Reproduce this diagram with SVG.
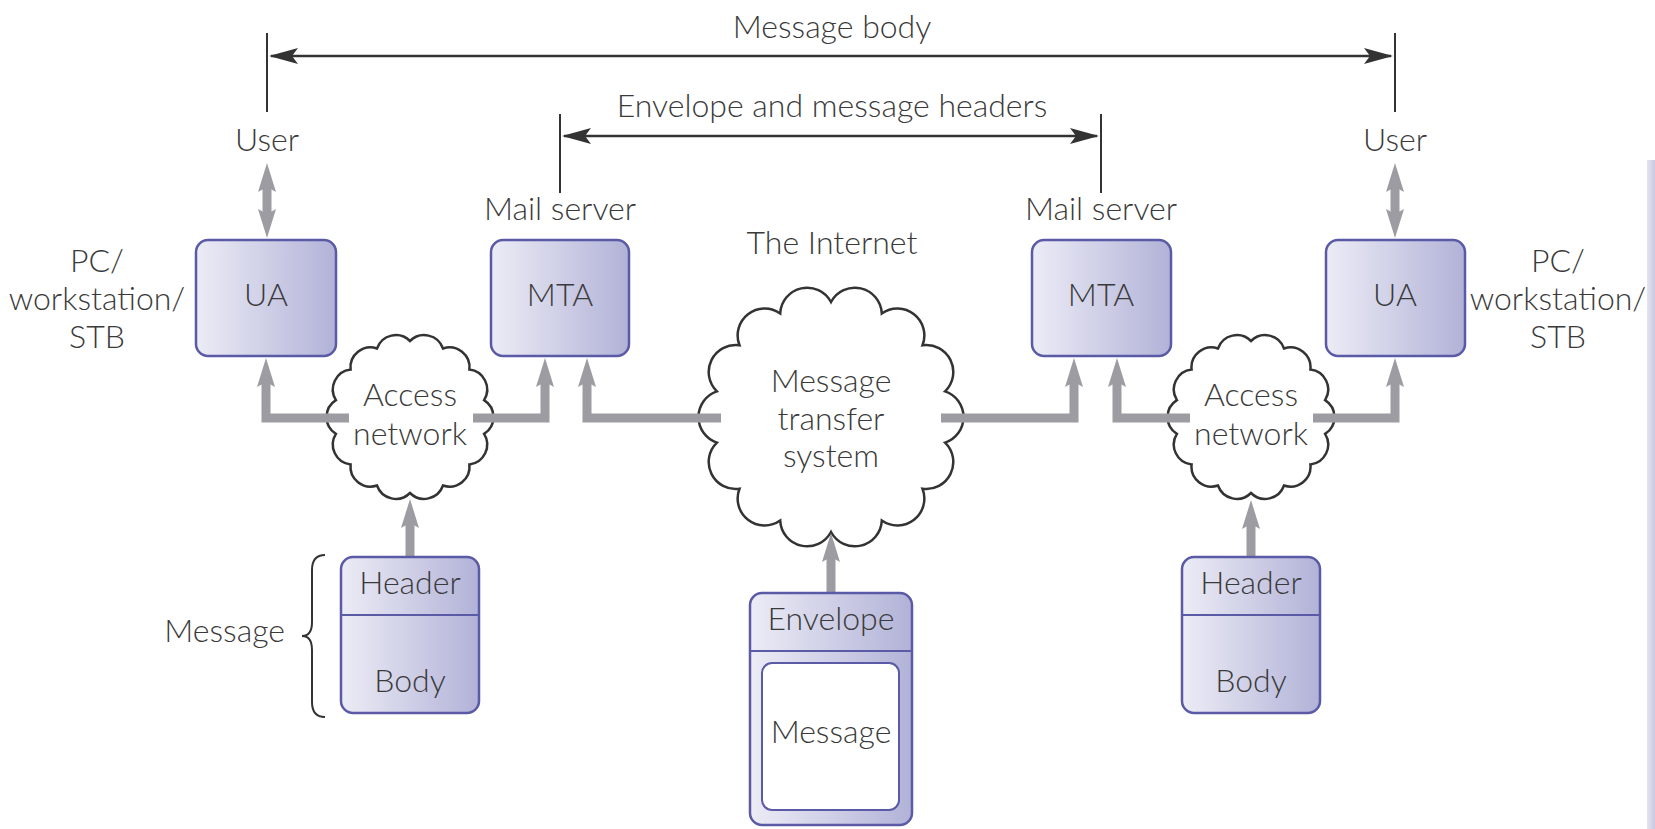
<svg xmlns="http://www.w3.org/2000/svg" width="1655" height="829" viewBox="0 0 1655 829">
<defs>
<linearGradient id="boxGrad" x1="0" y1="0" x2="1" y2="0">
<stop offset="0" stop-color="#ececf6"/>
<stop offset="1" stop-color="#b2b2d8"/>
</linearGradient>
<linearGradient id="edgeGrad" x1="0" y1="0" x2="1" y2="0">
<stop offset="0" stop-color="#e4e4f0"/>
<stop offset="1" stop-color="#c8c8e0"/>
</linearGradient>
<marker id="grayHead" viewBox="0 -10 30 20" markerWidth="30" markerHeight="20" refX="5" refY="0" markerUnits="userSpaceOnUse" orient="auto-start-reverse">
<path d="M0,-9 L29,0 L0,9 L5,0 Z" fill="#9c9ca2"/>
</marker>
<marker id="darkHead" viewBox="0 -9 30 18" markerWidth="30" markerHeight="18" refX="27" refY="0" markerUnits="userSpaceOnUse" orient="auto-start-reverse">
<path d="M0,-8 L29,0 L0,8 L6,0 Z" fill="#333"/>
</marker>
<path id="smallCloud" d="M0,-76 A20,20 0 0 1 33,-68.5 A20,20 0 0 1 59.4,-47.4 A20,20 0 0 1 74.1,-16.9 A20,20 0 0 1 74.1,16.9 A20,20 0 0 1 59.4,47.4 A20,20 0 0 1 33,68.5 A20,20 0 0 1 0,76 A20,20 0 0 1 -33,68.5 A20,20 0 0 1 -59.4,47.4 A20,20 0 0 1 -74.1,16.9 A20,20 0 0 1 -74.1,-16.9 A20,20 0 0 1 -59.4,-47.4 A20,20 0 0 1 -33,-68.5 A20,20 0 0 1 0,-76 Z"/>
</defs>
<style>
text{font-family:"Lato","Liberation Sans",sans-serif;font-weight:300;font-size:32px;fill:#3a3a3a;text-anchor:middle}
.box{fill:url(#boxGrad);stroke:#5a5aa6;stroke-width:2.5}
.inner{fill:#fff;stroke:#5a5aa6;stroke-width:2}
.div{stroke:#5a5aa6;stroke-width:2}
.cloud{fill:#fff;stroke:#333;stroke-width:2.5}
.flow{fill:none;stroke:#9c9ca2;stroke-width:9;marker-end:url(#grayHead)}
.both{marker-start:url(#grayHead)}
.dim{fill:none;stroke:#333;stroke-width:2.5;marker-start:url(#darkHead);marker-end:url(#darkHead)}
.tick{stroke:#333;stroke-width:2}
</style>
<rect width="1655" height="829" fill="#fff"/>
<rect x="1647" y="160" width="8" height="669" fill="url(#edgeGrad)"/>

<g id="cloud-access-left">
<use href="#smallCloud" class="cloud" transform="translate(410,417)"/>
<text x="410" y="406">Access</text>
<text x="410" y="445">network</text>
</g>
<g id="cloud-internet">
<path class="cloud" transform="translate(831,417)" d="M0,-115 A27,27 0 0 1 50.8,-103.6 A27,27 0 0 1 91.5,-71.7 A27,27 0 0 1 114.1,-25.6 A27,27 0 0 1 114.1,25.6 A27,27 0 0 1 91.5,71.7 A27,27 0 0 1 50.8,103.6 A27,27 0 0 1 0,115 A27,27 0 0 1 -50.8,103.6 A27,27 0 0 1 -91.5,71.7 A27,27 0 0 1 -114.1,25.6 A27,27 0 0 1 -114.1,-25.6 A27,27 0 0 1 -91.5,-71.7 A27,27 0 0 1 -50.8,-103.6 A27,27 0 0 1 0,-115 Z"/>
<text x="831" y="392">Message</text>
<text x="831" y="430">transfer</text>
<text x="831" y="467">system</text>
</g>
<g id="cloud-access-right">
<use href="#smallCloud" class="cloud" transform="translate(1251,417)"/>
<text x="1251" y="406">Access</text>
<text x="1251" y="445">network</text>
</g>

<g id="connectors">
<line class="tick" x1="267" y1="33" x2="267" y2="112"/>
<line class="tick" x1="1395" y1="33" x2="1395" y2="112"/>
<line class="dim" x1="271" y1="56" x2="1391" y2="56"/>
<line class="tick" x1="560" y1="114" x2="560" y2="193"/>
<line class="tick" x1="1101" y1="114" x2="1101" y2="193"/>
<line class="dim" x1="564" y1="136" x2="1097" y2="136"/>
<path class="flow both" d="M267,187 V214"/>
<path class="flow both" d="M1395,187 V214"/>
<path class="flow" d="M349,418 H266 V382"/>
<path class="flow" d="M473,418 H545 V382"/>
<path class="flow" d="M721,418 H587 V382"/>
<path class="flow" d="M941,418 H1074 V382"/>
<path class="flow" d="M1190,418 H1117 V382"/>
<path class="flow" d="M1313,418 H1395 V382"/>
<path class="flow" d="M410,557 V523"/>
<path class="flow" d="M831,593 V557"/>
<path class="flow" d="M1251,557 V524"/>
<path d="M325,555 Q312,555 312,570 L312,622 Q312,636 302,636 Q312,636 312,650 L312,702 Q312,717 325,717" fill="none" stroke="#333" stroke-width="2"/>
</g>

<g id="label-message-body"><text x="832" y="38">Message body</text></g>
<g id="label-envelope-headers"><text x="832" y="117">Envelope and message headers</text></g>
<g id="label-user-left"><text x="267" y="151">User</text></g>
<g id="label-user-right"><text x="1395" y="151">User</text></g>
<g id="label-mail-left"><text x="560" y="220">Mail server</text></g>
<g id="label-mail-right"><text x="1101" y="220">Mail server</text></g>
<g id="label-internet"><text x="832" y="254">The Internet</text></g>
<g id="label-pc-left"><text x="97" y="272">PC/</text><text x="97" y="310">workstation/</text><text x="97" y="348">STB</text></g>
<g id="label-pc-right"><text x="1558" y="272">PC/</text><text x="1558" y="310">workstation/</text><text x="1558" y="348">STB</text></g>
<g id="label-message-left"><text x="285" y="642" style="text-anchor:end">Message</text></g>

<g id="ua-left"><rect class="box" x="196" y="240" width="140" height="116" rx="12"/><text x="266" y="306">UA</text></g>
<g id="mta-left"><rect class="box" x="491" y="240" width="138" height="116" rx="12"/><text x="560" y="306">MTA</text></g>
<g id="mta-right"><rect class="box" x="1032" y="240" width="139" height="116" rx="12"/><text x="1101" y="306">MTA</text></g>
<g id="ua-right"><rect class="box" x="1326" y="240" width="139" height="116" rx="12"/><text x="1395" y="306">UA</text></g>

<g id="msg-left"><rect class="box" x="341" y="557" width="138" height="156" rx="12"/><line class="div" x1="342" y1="615" x2="478" y2="615"/><text x="410" y="594">Header</text><text x="410" y="692">Body</text></g>
<g id="msg-right"><rect class="box" x="1182" y="557" width="138" height="156" rx="12"/><line class="div" x1="1183" y1="615" x2="1319" y2="615"/><text x="1251" y="594">Header</text><text x="1251" y="692">Body</text></g>
<g id="envelope"><rect class="box" x="750" y="593" width="162" height="232" rx="12"/><line class="div" x1="751" y1="651" x2="911" y2="651"/><rect class="inner" x="762" y="663" width="137" height="147" rx="10"/><text x="831" y="630">Envelope</text><text x="831" y="743">Message</text></g>
</svg>
